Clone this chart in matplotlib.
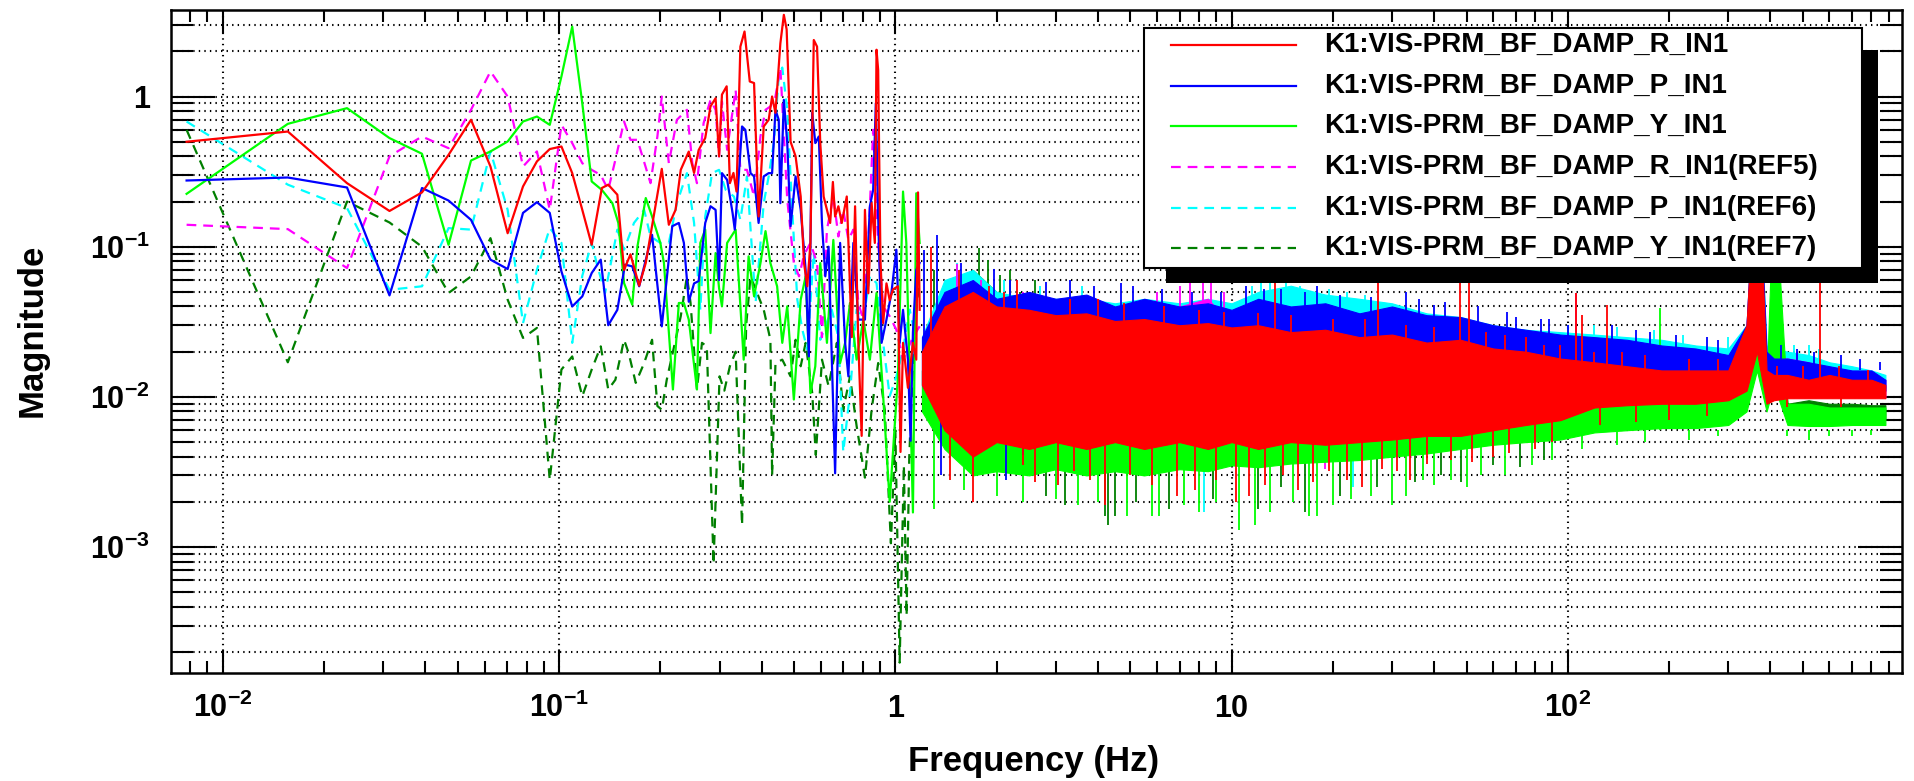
#Spectrum of PRM BF damping signals, redrawn from a ROOT/diaggui style plot

#import the libraries
import numpy as np
import matplotlib
matplotlib.use("Agg")
import matplotlib.pyplot as plt
from matplotlib.patches import Rectangle
from matplotlib.lines import Line2D
from matplotlib.ticker import FixedLocator, FixedFormatter, LogLocator, NullFormatter

plt.rcParams['font.family'] = ['Liberation Sans', 'DejaVu Sans']
plt.rcParams['font.weight'] = 'bold'
plt.rcParams['mathtext.fontset'] = 'custom'
plt.rcParams['mathtext.rm'] = 'Liberation Sans:bold'
plt.rcParams['mathtext.it'] = 'Liberation Sans:bold'
plt.rcParams['mathtext.bf'] = 'Liberation Sans:bold'
plt.rcParams['mathtext.default'] = 'bf'
plt.rcParams['lines.scale_dashes'] = False

#legend labels
labels = ["K1:VIS-PRM_BF_DAMP_R_IN1", "K1:VIS-PRM_BF_DAMP_P_IN1", "K1:VIS-PRM_BF_DAMP_Y_IN1",
          "K1:VIS-PRM_BF_DAMP_R_IN1(REF5)", "K1:VIS-PRM_BF_DAMP_P_IN1(REF6)",
          "K1:VIS-PRM_BF_DAMP_Y_IN1(REF7)"]

#lowest frequency bins (Hz), shared by all traces
lf_freq = [0.0078, 0.0156, 0.0234, 0.0313, 0.0391, 0.0469, 0.0547, 0.0625, 0.0703, 0.0781,
           0.0859, 0.0938, 0.1016, 0.1094, 0.1172, 0.125]
r_lf = [0.50, 0.585, 0.265, 0.173, 0.230, 0.409, 0.700, 0.342, 0.123, 0.252, 0.370, 0.447, 0.465, 0.309, 0.176, 0.103]
p_lf = [0.276, 0.289, 0.248, 0.0474, 0.246, 0.203, 0.151, 0.082, 0.071, 0.168, 0.198, 0.168, 0.0685, 0.040, 0.0467, 0.0668]
y_lf = [0.225, 0.658, 0.837, 0.529, 0.416, 0.103, 0.375, 0.431, 0.502, 0.682, 0.736, 0.648, 1.36, 2.92, 0.90, 0.272]
r5_lf = [0.140, 0.131, 0.0721, 0.40, 0.542, 0.453, 0.816, 1.47, 1.0, 0.342, 0.431, 0.176, 0.648, 0.49, 0.36, 0.325]
p6_lf = [0.682, 0.259, 0.181, 0.0517, 0.0545, 0.133, 0.130, 0.431, 0.176, 0.031, 0.070, 0.133, 0.106, 0.0229, 0.064, 0.106]
y7_lf = [0.600, 0.017, 0.200, 0.145, 0.100, 0.0492, 0.0634, 0.114, 0.0444, 0.0247, 0.0288, 0.0028, 0.0152, 0.0186, 0.0101, 0.0152]

#0.13 - 1.2 Hz, vertices of each trace
r_mf = [0.134, 0.140, 0.149, 0.156, 0.163, 0.173, 0.181, 0.202, 0.212, 0.222, 0.230, 0.243, 0.252, 0.260, 0.272,
        0.282, 0.292, 0.299, 0.305, 0.315, 0.322, 0.330, 0.337, 0.346, 0.356, 0.369, 0.380, 0.392, 0.406, 0.420,
        0.430, 0.440, 0.455, 0.466, 0.475, 0.488, 0.505, 0.523, 0.535, 0.547, 0.559, 0.572, 0.585, 0.598, 0.612,
        0.640, 0.652, 0.662, 0.677, 0.693, 0.717, 0.742, 0.759, 0.776, 0.794, 0.812, 0.831, 0.850, 0.869, 0.879,
        0.889, 0.903, 0.920, 0.941, 0.962, 0.984, 1.018, 1.036, 1.054, 1.090, 1.128, 1.154, 1.168, 1.181]
r_mv = [0.246, 0.259, 0.222, 0.070, 0.089, 0.055, 0.078, 0.33, 0.14, 0.176, 0.325, 0.43, 0.31, 0.44, 0.53,
        0.86, 0.975, 0.40, 1.03, 1.17, 0.265, 0.31, 0.233, 2.15, 2.71, 1.26, 1.23, 0.159, 0.632, 0.70,
        1.0, 0.78, 2.26, 3.5, 2.8, 0.50, 0.40, 0.216, 0.078, 0.0545, 0.106, 2.38, 2.15, 0.49, 0.216,
        0.144, 0.27, 0.159, 0.186, 0.144, 0.216, 0.025, 0.186, 0.0229, 0.0055, 0.176, 0.049, 0.195, 0.106, 2.05,
        1.5, 0.082, 0.031, 0.057, 0.044, 0.052, 0.0545, 0.0043, 0.0229, 0.0115, 0.0229, 0.0177, 0.23, 0.038]
p_mf = [0.133, 0.140, 0.149, 0.157, 0.165, 0.173, 0.189, 0.202, 0.217, 0.227, 0.235, 0.243, 0.252, 0.260, 0.272,
        0.282, 0.292, 0.299, 0.305, 0.316, 0.328, 0.333, 0.339, 0.350, 0.358, 0.371, 0.380, 0.392, 0.406, 0.420,
        0.430, 0.440, 0.450, 0.455, 0.466, 0.477, 0.488, 0.505, 0.523, 0.541, 0.553, 0.566, 0.578, 0.592, 0.605,
        0.619, 0.633, 0.662, 0.685, 0.709, 0.725, 0.750, 0.776, 0.812, 0.840, 0.859, 0.875, 0.889, 0.910, 0.941,
        0.973, 1.007, 1.030, 1.054, 1.090, 1.110, 1.128, 1.154, 1.181]
p_mv = [0.082, 0.030, 0.038, 0.076, 0.074, 0.0545, 0.120, 0.0295, 0.137, 0.144, 0.106, 0.043, 0.057, 0.059, 0.144,
        0.186, 0.176, 0.060, 0.309, 0.279, 0.168, 0.130, 0.216, 0.632, 0.60, 0.309, 0.294, 0.144, 0.294, 0.309,
        0.309, 0.816, 0.70, 0.195, 0.95, 0.49, 0.137, 0.294, 0.176, 0.070, 0.0186, 0.78, 0.49, 0.542, 0.144,
        0.0635, 0.10, 0.0031, 0.106, 0.0229, 0.0137, 0.106, 0.0327, 0.0327, 0.186, 0.239, 0.9, 0.159, 0.0229, 0.0327,
        0.049, 0.0955, 0.0229, 0.038, 0.0177, 0.0051, 0.027, 0.070, 0.078]
y_mf = [0.134, 0.144, 0.150, 0.156, 0.165, 0.171, 0.181, 0.189, 0.200, 0.205, 0.218, 0.227, 0.235, 0.243, 0.257,
        0.263, 0.272, 0.282, 0.292, 0.299, 0.305, 0.316, 0.335, 0.354, 0.366, 0.380, 0.397, 0.411, 0.425, 0.445,
        0.461, 0.477, 0.499, 0.523, 0.541, 0.559, 0.578, 0.598, 0.626, 0.654, 0.685, 0.709, 0.733, 0.767, 0.803,
        0.840, 0.879, 0.920, 0.962, 1.018, 1.054, 1.078, 1.103, 1.128, 1.154, 1.181]
y_mv = [0.239, 0.195, 0.144, 0.0573, 0.0411, 0.1005, 0.211, 0.159, 0.106, 0.078, 0.0112, 0.0422, 0.0422, 0.0327, 0.0112,
        0.106, 0.130, 0.0266, 0.0907, 0.0531, 0.0401, 0.106, 0.130, 0.0177, 0.0863, 0.0468, 0.0778, 0.127, 0.0778, 0.0545,
        0.0229, 0.0401, 0.0096, 0.0444, 0.0635, 0.0106, 0.016, 0.0778, 0.0229, 0.111, 0.0168, 0.0229, 0.0422, 0.0177, 0.0327,
        0.0177, 0.0492, 0.0101, 0.002, 0.0137, 0.233, 0.106, 0.0137, 0.0017, 0.227, 0.106]
r5_mf = [0.133, 0.140, 0.147, 0.156, 0.163, 0.171, 0.187, 0.196, 0.202, 0.212, 0.224, 0.240, 0.249, 0.257, 0.269,
         0.282, 0.292, 0.299, 0.305, 0.316, 0.335, 0.346, 0.362, 0.380, 0.397, 0.411, 0.425, 0.440, 0.455, 0.477,
         0.499, 0.517, 0.535, 0.559, 0.585, 0.605, 0.626, 0.654, 0.677, 0.700, 0.725, 0.750, 0.776, 0.803, 0.831,
         0.859, 0.889, 0.920, 0.962, 1.007, 1.054, 1.128, 1.181]
r5_mv = [0.30, 0.239, 0.379, 0.683, 0.515, 0.515, 0.265, 0.542, 1.0, 0.36, 0.70, 0.816, 0.36, 0.265, 0.666,
         0.95, 0.816, 0.399, 0.927, 0.442, 1.11, 0.325, 0.325, 0.216, 0.542, 0.816, 0.859, 1.0, 1.56, 0.205,
         0.078, 0.0635, 0.088, 0.106, 0.078, 0.025, 0.130, 0.216, 0.117, 0.176, 0.111, 0.130, 0.0422, 0.0327, 0.106,
         0.6, 0.106, 0.0401, 0.0344, 0.028, 0.0177, 0.025, 0.0295]
p6_mf = [0.130, 0.137, 0.149, 0.156, 0.167, 0.179, 0.187, 0.200, 0.212, 0.224, 0.240, 0.252, 0.263, 0.272, 0.285,
         0.299, 0.313, 0.331, 0.346, 0.362, 0.384, 0.406, 0.420, 0.435, 0.450, 0.461, 0.477, 0.494, 0.511, 0.529,
         0.547, 0.572, 0.598, 0.619, 0.647, 0.677, 0.700, 0.733, 0.767, 0.803, 0.840, 0.879, 0.920, 0.962, 1.007,
         1.054, 1.103, 1.154]
p6_mv = [0.074, 0.0492, 0.130, 0.0955, 0.144, 0.176, 0.117, 0.106, 0.106, 0.195, 0.309, 0.144, 0.0381, 0.159, 0.309,
         0.325, 0.239, 0.216, 0.151, 0.294, 0.0422, 0.195, 0.294, 0.49, 1.36, 1.56, 0.816, 0.168, 0.0444, 0.028,
         0.0207, 0.0907, 0.024, 0.0295, 0.0381, 0.025, 0.0043, 0.0106, 0.0381, 0.0327, 0.0635, 0.0573, 0.0229, 0.0101, 0.0137,
         0.0207, 0.0381, 0.024]
y7_mf = [0.133, 0.140, 0.147, 0.156, 0.161, 0.169, 0.179, 0.189, 0.196, 0.202, 0.209, 0.222, 0.230, 0.240, 0.246,
         0.257, 0.266, 0.275, 0.288, 0.300, 0.310, 0.322, 0.335, 0.350, 0.360, 0.371, 0.388, 0.406, 0.425, 0.430,
         0.440, 0.461, 0.488, 0.505, 0.523, 0.541, 0.566, 0.580, 0.605, 0.633, 0.670, 0.700, 0.733, 0.767, 0.812,
         0.850, 0.889, 0.930, 0.970, 1.000, 1.030, 1.060, 1.080, 1.100, 1.140, 1.180]
y7_mv = [0.0217, 0.0112, 0.013, 0.024, 0.0196, 0.0124, 0.0168, 0.024, 0.0087, 0.0082, 0.013, 0.024, 0.0344, 0.0635, 0.0422,
         0.0112, 0.0229, 0.0217, 0.00077, 0.0137, 0.011, 0.016, 0.020, 0.0014, 0.030, 0.0635, 0.0492, 0.0381, 0.024, 0.003,
         0.0168, 0.0177, 0.0137, 0.024, 0.016, 0.0229, 0.0106, 0.0041, 0.0177, 0.0118, 0.0229, 0.0082, 0.0137, 0.0064, 0.0029,
         0.0082, 0.0168, 0.0082, 0.00106, 0.006, 0.00017, 0.0035, 0.00035, 0.004, 0.03, 0.06]

#above 1.2 Hz the traces are dense noise: upper / lower edge of each band
hf_freq = [1.2, 1.4, 1.7, 2.0, 2.5, 3.0, 3.7, 4.5, 5.5, 7.0, 8.5, 10, 12, 15, 19, 24, 30, 38, 48, 60,
           75, 95, 120, 150, 190, 240, 300, 340, 365, 390, 410, 450, 520, 600, 700, 800, 880]
r_hi = [0.02, 0.04, 0.05, 0.04, 0.038, 0.035, 0.036, 0.032, 0.033, 0.030, 0.031, 0.029, 0.030, 0.027, 0.028, 0.025, 0.026, 0.023, 0.024, 0.021,
        0.020, 0.018, 0.017, 0.016, 0.015, 0.015, 0.015, 0.03, 0.6, 0.015, 0.014, 0.014, 0.013, 0.014, 0.013, 0.013, 0.012]
r_lo = [0.012, 0.006, 0.004, 0.005, 0.0045, 0.005, 0.0045, 0.005, 0.0045, 0.005, 0.0045, 0.005, 0.0045, 0.005, 0.0048, 0.005, 0.0052, 0.0055, 0.0055, 0.006,
        0.0065, 0.007, 0.0085, 0.0088, 0.009, 0.009, 0.0095, 0.011, 0.02, 0.009, 0.0095, 0.0098, 0.0098, 0.0098, 0.0098, 0.0098, 0.0098]
p_hi = [0.025, 0.05, 0.06, 0.045, 0.05, 0.045, 0.048, 0.040, 0.045, 0.040, 0.042, 0.038, 0.045, 0.040, 0.042, 0.036, 0.040, 0.035, 0.034, 0.030,
        0.028, 0.026, 0.025, 0.024, 0.022, 0.021, 0.019, 0.03, 0.6, 0.02, 0.018, 0.018, 0.017, 0.016, 0.015, 0.015, 0.013]
p_lo = [0.012, 0.0065, 0.005, 0.0055, 0.0052, 0.0055, 0.0052, 0.0055, 0.0052, 0.0055, 0.0052, 0.0055, 0.0052, 0.0055, 0.0055, 0.0058, 0.006, 0.0062, 0.0062, 0.0068,
        0.0075, 0.008, 0.0095, 0.0098, 0.01, 0.01, 0.0105, 0.012, 0.022, 0.0105, 0.0105, 0.011, 0.011, 0.011, 0.011, 0.011, 0.011]
y_hi = [0.015, 0.03, 0.035, 0.03, 0.025, 0.025, 0.022, 0.020, 0.020, 0.018, 0.018, 0.016, 0.016, 0.015, 0.015, 0.014, 0.014, 0.013, 0.013, 0.012,
        0.011, 0.011, 0.0105, 0.0095, 0.0095, 0.009, 0.0095, 0.02, 0.2, 0.012, 0.3, 0.009, 0.009, 0.0085, 0.0085, 0.0085, 0.0085]
y_lo = [0.008, 0.0045, 0.003, 0.0032, 0.003, 0.0033, 0.003, 0.0032, 0.003, 0.0033, 0.0032, 0.0035, 0.0034, 0.0036, 0.0037, 0.0038, 0.004, 0.0042, 0.0045, 0.0048,
        0.005, 0.0052, 0.0058, 0.006, 0.0062, 0.0062, 0.0065, 0.008, 0.015, 0.008, 0.012, 0.0065, 0.0064, 0.0064, 0.0065, 0.0065, 0.0065]
r5_hi = [0.02, 0.04, 0.045, 0.04, 0.035, 0.035, 0.033, 0.032, 0.035, 0.040, 0.045, 0.030, 0.030, 0.028, 0.028, 0.026, 0.025, 0.024, 0.023, 0.022,
         0.020, 0.019, 0.018, 0.017, 0.016, 0.016, 0.016, 0.03, 0.5, 0.018, 0.018, 0.018, 0.017, 0.015, 0.014, 0.013, 0.013]
r5_lo = [0.012, 0.006, 0.004, 0.0045, 0.004, 0.0045, 0.004, 0.0045, 0.004, 0.0045, 0.004, 0.0045, 0.0045, 0.0048, 0.005, 0.005, 0.0052, 0.0055, 0.0058, 0.006,
         0.0065, 0.0072, 0.0085, 0.009, 0.009, 0.0095, 0.0095, 0.011, 0.02, 0.009, 0.0098, 0.01, 0.01, 0.01, 0.01, 0.01, 0.01]
p6_hi = [0.025, 0.06, 0.07, 0.05, 0.045, 0.045, 0.045, 0.042, 0.045, 0.042, 0.045, 0.042, 0.050, 0.055, 0.048, 0.045, 0.042, 0.036, 0.034, 0.030,
         0.028, 0.027, 0.026, 0.025, 0.024, 0.022, 0.021, 0.03, 0.6, 0.022, 0.021, 0.020, 0.019, 0.017, 0.016, 0.015, 0.014]
p6_lo = [0.012, 0.006, 0.004, 0.0045, 0.0042, 0.0045, 0.0042, 0.0045, 0.0042, 0.0045, 0.0042, 0.0045, 0.0048, 0.005, 0.0052, 0.0055, 0.0058, 0.006, 0.0065, 0.007,
         0.0078, 0.0088, 0.0098, 0.0105, 0.011, 0.0112, 0.0115, 0.012, 0.02, 0.011, 0.0115, 0.012, 0.012, 0.012, 0.012, 0.0115, 0.0115]
y7_hi = [0.015, 0.05, 0.07, 0.05, 0.04, 0.03, 0.025, 0.022, 0.020, 0.018, 0.016, 0.015, 0.014, 0.013, 0.012, 0.012, 0.011, 0.011, 0.010, 0.010,
         0.0095, 0.009, 0.009, 0.0085, 0.0085, 0.0085, 0.009, 0.015, 0.15, 0.010, 0.1, 0.009, 0.0095, 0.009, 0.009, 0.0088, 0.0088]
y7_lo = [0.009, 0.005, 0.0033, 0.0035, 0.0033, 0.0036, 0.0033, 0.0035, 0.0033, 0.0036, 0.0035, 0.0038, 0.0037, 0.004, 0.004, 0.0042, 0.0044, 0.0046, 0.005, 0.0053,
         0.0055, 0.0057, 0.0064, 0.0066, 0.0068, 0.0068, 0.0072, 0.0088, 0.016, 0.0088, 0.013, 0.0072, 0.007, 0.007, 0.0072, 0.0072, 0.0072]

#single spikes sticking out of the bands (freq, tip value) and a level inside each band
r_spk_f = [1.28, 1.45, 1.55, 1.7, 1.9, 2.1, 2.3, 2.4, 2.6, 3.05, 3.3, 3.4, 3.8, 4.0, 4.2, 4.8, 5.0, 5.8, 6.3, 6.9,
           7.8, 8.0, 9.0, 9.5, 10.3, 11.3, 12, 12.6, 13.5, 14.2, 15, 15.8, 17.5, 19.5, 20, 22, 24.5, 25, 27.2, 28,
           31, 33, 34, 38, 40, 45, 47.7, 50.8, 52, 57, 60, 65, 67, 75, 80, 85, 90, 95, 106, 110,
           120, 125, 131, 145, 160, 170, 200, 230, 260, 280, 420, 450, 500, 562, 640, 650, 780]
r_spk_v = [0.10, 0.0028, 0.07, 0.002, 0.055, 0.05, 0.06, 0.0035, 0.0027, 0.0026, 0.045, 0.0032, 0.0028, 0.045, 0.0019, 0.042, 0.003, 0.0026, 0.04, 0.0022,
           0.0024, 0.038, 0.0028, 0.037, 0.002, 0.0022, 0.036, 0.0026, 0.3, 0.003, 0.035, 0.0024, 0.0027, 0.0032, 0.033, 0.0028, 0.0025, 0.033, 0.3, 0.0033,
           0.0032, 0.03, 0.0028, 0.0036, 0.029, 0.0038, 0.4, 0.4, 0.0037, 0.027, 0.004, 0.026, 0.0042, 0.025, 0.0045, 0.022, 0.005, 0.022, 0.049, 0.035,
           0.02, 0.0065, 0.041, 0.02, 0.0068, 0.019, 0.007, 0.018, 0.0075, 0.018, 0.016, 0.0085, 0.016, 0.1, 0.016, 0.0085, 0.015]
p_spk_f = [1.22, 1.33, 1.37, 1.57, 1.97, 2.14, 2.2, 2.4, 2.8, 3.3, 3.9, 4.7, 5.1, 6.2, 7.6, 9.3, 11, 12.5, 14, 16.5,
           18, 21, 26, 33, 36, 40, 43, 54, 66, 70, 83, 88, 100, 135, 160, 175, 210, 260, 280, 430,
           480, 540, 650, 740, 850]
p_spk_v = [0.095, 0.12, 0.003, 0.078, 0.071, 0.0028, 0.06, 0.0041, 0.058, 0.06, 0.055, 0.057, 0.055, 0.052, 0.05, 0.05, 0.055, 0.052, 0.052, 0.05,
           0.055, 0.048, 0.046, 0.05, 0.045, 0.041, 0.043, 0.04, 0.037, 0.034, 0.033, 0.033, 0.03, 0.03, 0.028, 0.027, 0.026, 0.025, 0.024, 0.022,
           0.021, 0.02, 0.019, 0.018, 0.017]
y_spk_f = [1.3, 1.6, 2.0, 2.4, 3.0, 3.5, 4.0, 4.9, 5.8, 6.1, 7.2, 8.0, 9.0, 10.5, 11.7, 13, 15.2, 17, 18, 20,
           22.6, 26, 30, 33, 37, 40, 45, 50, 55, 65, 78, 90, 110, 140, 170, 188, 230, 280, 450, 520,
           600, 700, 800]
y_spk_v = [0.0018, 0.0024, 0.0022, 0.002, 0.0021, 0.0019, 0.002, 0.0016, 0.0016, 0.0016, 0.0019, 0.0017, 0.002, 0.0013, 0.0014, 0.0017, 0.002, 0.0016, 0.0016, 0.0019,
           0.0021, 0.0022, 0.0019, 0.0022, 0.0028, 0.0026, 0.0028, 0.0025, 0.003, 0.003, 0.0035, 0.0038, 0.0045, 0.0048, 0.005, 0.039, 0.0052, 0.0055, 0.0055, 0.0052,
           0.0055, 0.0055, 0.0056]
r5_spk_f = [1.53, 1.8, 2.4, 2.9, 6.0, 7.0, 7.5, 8.2, 8.7, 9.0, 9.5, 19, 106, 430, 480]
r5_spk_v = [0.077, 0.06, 0.05, 0.0035, 0.05, 0.055, 0.06, 0.09, 0.07, 0.0028, 0.05, 0.0033, 0.049, 0.02, 0.02]
p6_spk_f = [1.53, 2.1, 2.7, 3.6, 8.3, 11.5, 12.2, 13, 14.5, 16, 17.5, 19.5, 22, 23, 25, 100, 120, 140, 180, 220,
            300, 420, 470, 520, 560]
p6_spk_v = [0.078, 0.06, 0.055, 0.055, 0.0017, 0.055, 0.058, 0.06, 0.065, 0.055, 0.05, 0.052, 0.05, 0.0025, 0.048, 0.03, 0.03, 0.029, 0.028, 0.026,
            0.025, 0.023, 0.022, 0.022, 0.021]
y7_spk_f = [1.3, 1.45, 1.6, 1.77, 1.89, 2.05, 2.2, 2.35, 2.6, 2.8, 3.2, 4.2, 4.3, 4.5, 5.2, 6.5, 8.8, 12, 14, 16.5,
            21, 27, 35, 42, 48, 60, 72, 85]
y7_spk_v = [0.07, 0.05, 0.06, 0.098, 0.082, 0.065, 0.07, 0.05, 0.06, 0.0022, 0.0019, 0.0016, 0.0014, 0.0016, 0.002, 0.0018, 0.0021, 0.0018, 0.0025, 0.0017,
            0.0022, 0.0025, 0.0027, 0.003, 0.0027, 0.0035, 0.0034, 0.0038]
spk_base = [0.01, 0.015, 0.006, 0.01, 0.015, 0.006]

colors = ["#ff0000", "#0000ff", "#00ff00", "#ff00ff", "#00ffff", "#007f00"]
dash = (0, (7, 5))
styles = ["-", "-", "-", dash, dash, dash]

lf = [r_lf, p_lf, y_lf, r5_lf, p6_lf, y7_lf]
mf = [r_mf, p_mf, y_mf, r5_mf, p6_mf, y7_mf]
mv = [r_mv, p_mv, y_mv, r5_mv, p6_mv, y7_mv]
hi = [r_hi, p_hi, y_hi, r5_hi, p6_hi, y7_hi]
lo = [r_lo, p_lo, y_lo, r5_lo, p6_lo, y7_lo]
spf = [r_spk_f, p_spk_f, y_spk_f, r5_spk_f, p6_spk_f, y7_spk_f]
spv = [r_spk_v, p_spk_v, y_spk_v, r5_spk_v, p6_spk_v, y7_spk_v]

#figure
W, H = 1914, 781
fig = plt.figure(figsize=(W / 100, H / 100), dpi=100)
ax = fig.add_axes([171 / W, 1 - 673 / H, (1902 - 171) / W, (673 - 10) / H])
ax.set_xscale("log")
ax.set_yscale("log")

#REF traces first, red on top
for i in [5, 4, 3, 2, 1, 0]:
    z = 2 + (5 - i) * 0.1
    ax.plot(lf_freq + mf[i], lf[i] + mv[i], color=colors[i], ls=styles[i], lw=1.6, zorder=z)
    ax.fill_between(hf_freq, lo[i], hi[i], color=colors[i], lw=0.8, zorder=z)
    ax.vlines(spf[i], spk_base[i], spv[i], colors=colors[i], lw=1.3, zorder=z)

ax.set_xlim(0.00701, 986)
ax.set_ylim(1.45e-4, 3.77)

#ticks like ROOT
ax.xaxis.set_major_locator(FixedLocator([0.01, 0.1, 1, 10, 100]))
ax.xaxis.set_major_formatter(FixedFormatter([r"$10^{-2}$", r"$10^{-1}$", "1", "10", r"$10^{2}$"]))
ax.xaxis.set_minor_locator(LogLocator(base=10, subs=np.arange(2, 10), numticks=20))
ax.xaxis.set_minor_formatter(NullFormatter())
ax.yaxis.set_major_locator(FixedLocator([1e-3, 1e-2, 1e-1, 1]))
ax.yaxis.set_major_formatter(FixedFormatter([r"$10^{-3}$", r"$10^{-2}$", r"$10^{-1}$", "1"]))
ax.yaxis.set_minor_locator(LogLocator(base=10, subs=np.arange(2, 10), numticks=20))
ax.yaxis.set_minor_formatter(NullFormatter())

ax.tick_params(which="both", direction="in", top=True, right=True, width=1.5, labelsize=22)
ax.tick_params(axis="x", which="major", length=16.5, pad=32)
ax.tick_params(axis="x", which="minor", length=8.3)
ax.tick_params(axis="y", which="major", length=32, pad=15)
ax.tick_params(axis="y", which="minor", length=16)
plt.setp(ax.get_xticklabels(), va="baseline")

ax.set_axisbelow(True)
ax.grid(axis="x", which="major", color="black", lw=1.5, ls=(0, (1, 3)))
ax.grid(axis="y", which="both", color="black", lw=1.5, ls=(0, (1, 3)))
for s in ax.spines.values():
    s.set_linewidth(1.8)

fig.text(1034 / W, 1 - 761 / H, "Frequency (Hz)", fontsize=25, ha="center", va="center")
fig.text(32 / W, 1 - 330 / H, "Magnitude", fontsize=25, rotation=90, ha="center", va="center")

#legend box with black shadow
fig.add_artist(Rectangle((1166 / W, 1 - 283 / H), (1878 - 1166) / W, (283 - 50) / H,
                         transform=fig.transFigure, facecolor="black", edgecolor="none", zorder=10))
fig.add_artist(Rectangle((1144 / W, 1 - 268 / H), (1862 - 1144) / W, (268 - 28) / H,
                         transform=fig.transFigure, facecolor="white", edgecolor="black", lw=1.5, zorder=11))
for i in range(6):
    yy = 1 - (45 + i * 40.66) / H
    fig.add_artist(Line2D([1171 / W, 1296 / W], [yy, yy], transform=fig.transFigure,
                          color=colors[i], ls=styles[i], lw=1.6, zorder=12))
    fig.text(1324 / W, yy, labels[i], fontsize=20, ha="left", va="center", zorder=12)

fig.savefig("out.png", dpi=100, facecolor="white")
